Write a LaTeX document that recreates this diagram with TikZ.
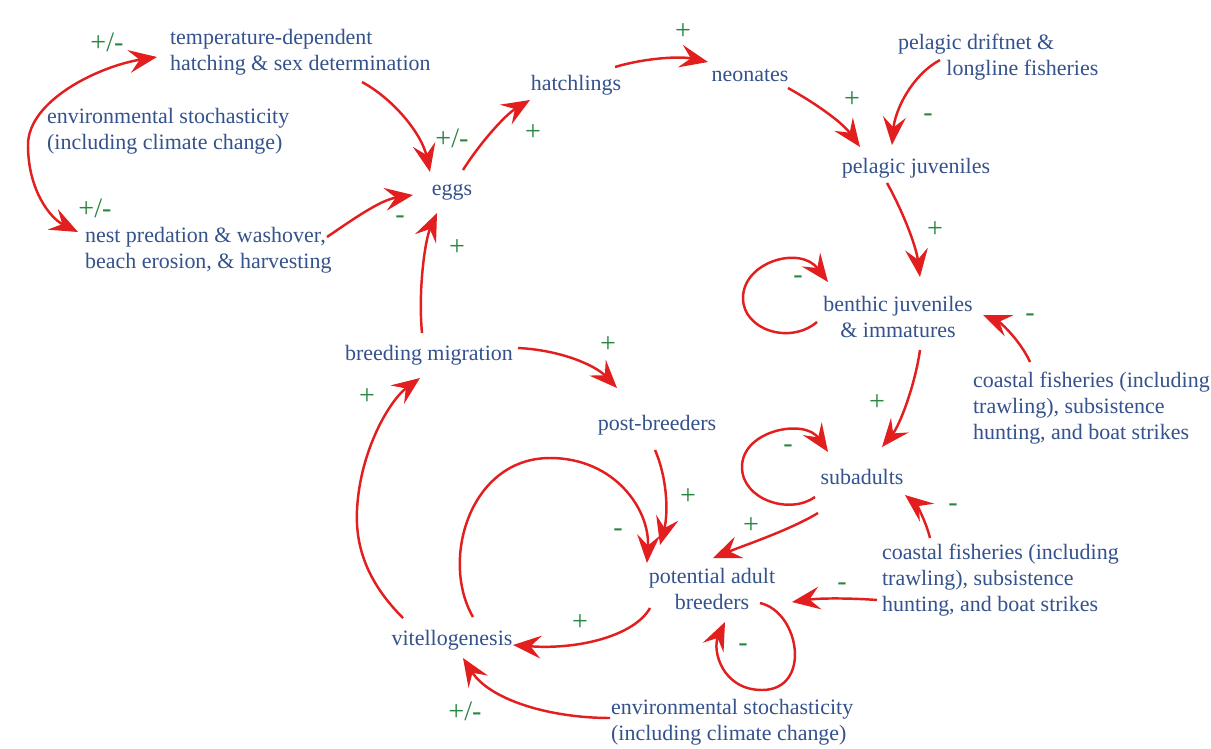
\documentclass[tikz,border=0pt]{standalone}
\usepackage{fontspec}
\setmainfont{Liberation Serif}
\usetikzlibrary{arrows.meta,calc}

\definecolor{txtazul}{RGB}{52,82,140}
\definecolor{signoverde}{RGB}{40,135,65}
\definecolor{flecharoja}{RGB}{226,30,30}

\tikzset{
  punta/.tip={Stealth[length=16pt,width=13pt,inset=6pt]},
  etiq/.style={text=txtazul, inner sep=1pt},
  signo/.style={text=signoverde, font=\fontsize{16}{18}\selectfont},
  flecha/.style={draw=flecharoja, line width=1.4pt, -punta}
}

\begin{document}
\begin{tikzpicture}[x=0.02cm, y=-0.02cm, every node/.style={font=\fontsize{12.5}{15}\selectfont}]
  % Fondo
  \fill[white] (0,0) rectangle (1211,748);
  \useasboundingbox (0,0) rectangle (1211,748);

  % Etiquetas
  \node[etiq, anchor=west, align=left] (temp) at (168,52) {temperature-dependent\\hatching \& sex determination};
  \node[etiq, anchor=west, align=left] (envA) at (45,131) {environmental stochasticity\\(including climate change)};
  \node[etiq, anchor=west, align=left] (nest) at (83,250) {nest predation \& washover,\\beach erosion, \& harvesting};
  \node[etiq] (eggs) at (452,192) {eggs};
  \node[etiq] (hatch) at (576,85) {hatchlings};
  \node[etiq] (neon) at (750,75) {neonates};
  \node[etiq, anchor=west, align=left] (drift) at (896,57) {pelagic driftnet \&\\\hspace*{2.2em}longline fisheries};
  \node[etiq] (pelag) at (916,168) {pelagic juveniles};
  \node[etiq, align=center] (benth) at (898,317) {benthic juveniles\\\& immatures};
  \node[etiq, anchor=west, align=left] (coastA) at (971,408) {coastal fisheries (including\\trawling), subsistence\\hunting, and boat strikes};
  \node[etiq] (migr) at (429,355) {breeding migration};
  \node[etiq] (post) at (657,425) {post-breeders};
  \node[etiq] (subad) at (862,477) {subadults};
  \node[etiq, anchor=west, align=left] (coastB) at (880,580) {coastal fisheries (including\\trawling), subsistence\\hunting, and boat strikes};
  \node[etiq, align=center] (adult) at (712,589) {potential adult\\breeders};
  \node[etiq] (vitel) at (452,640) {vitellogenesis};
  \node[etiq, anchor=west, align=left] (envB) at (609,722) {environmental stochasticity\\(including climate change)};

  % Signos
  \node[signo] (s01) at (107,42) {+/-};
  \node[signo] (s02) at (95,208) {+/-};
  \node[signo] (s03) at (452,138) {+/-};
  \node[signo] (s04) at (533,133) {+};
  \node[signo] (s05) at (400,220) {-};
  \node[signo] (s06) at (457,248) {+};
  \node[signo] (s07) at (683,32) {+};
  \node[signo] (s08) at (852,100) {+};
  \node[signo] (s09) at (928,118) {-};
  \node[signo] (s10) at (935,230) {+};
  \node[signo] (s11) at (798,280) {-};
  \node[signo] (s12) at (1030,318) {-};
  \node[signo] (s13) at (877,403) {+};
  \node[signo] (s14) at (788,449) {-};
  \node[signo] (s15) at (953,508) {-};
  \node[signo] (s16) at (608,345) {+};
  \node[signo] (s17) at (367,397) {+};
  \node[signo] (s18) at (688,497) {+};
  \node[signo] (s19) at (618,533) {-};
  \node[signo] (s20) at (751,526) {+};
  \node[signo] (s21) at (842,587) {-};
  \node[signo] (s22) at (743,648) {-};
  \node[signo] (s23) at (580,623) {+};
  \node[signo] (s24) at (465,711) {+/-};

  % Flechas: nidos y huevos
  \draw[flecha, punta-punta] ($(temp.west)+(-11,5)$) .. controls (100,66) and (28,100) .. (28,145)
    .. controls (28,190) and (50,218) .. ($(nest.west)+(-5,-18)$);
  \draw[flecha] ($(temp.west)+(194,30)$) .. controls (395,100) and (422,135) .. ($(eggs)+(-22,-20)$);
  \draw[flecha] ($(nest.west)+(244,-13)$) .. controls (352,220) and (380,200) .. ($(eggs)+(-39,3)$);
  \draw[flecha] ($(eggs)+(11,-22)$) .. controls (480,143) and (505,115) .. ($(hatch)+(-46,15)$);

  % Flechas: etapas pelagicas
  \draw[flecha] ($(hatch)+(39,-18)$) .. controls (645,58) and (680,56) .. ($(neon)+(-42,-13)$);
  \draw[flecha] ($(neon)+(38,13)$) .. controls (815,103) and (842,122) .. ($(pelag)+(-56,-21)$);
  \draw[flecha] ($(drift.west)+(44,3)$) .. controls (912,75) and (895,110) .. ($(pelag)+(-24,-23)$);
  \draw[flecha] ($(pelag)+(-29,15)$) .. controls (902,210) and (916,245) .. ($(benth)+(22,-40)$);

  % Flechas: etapas bentonicas
  \draw[flecha] ($(benth)+(-81,5)$) .. controls (790,345) and (743,330) .. (743,298)
    .. controls (743,262) and (800,245) .. ($(benth)+(-70,-35)$);
  \draw[flecha] ($(coastA.west)+(59,-46)$) .. controls (1020,340) and (1000,322) .. ($(benth)+(85,-2)$);
  \draw[flecha] ($(benth)+(22,33)$) .. controls (915,385) and (900,425) .. ($(subad)+(20,-30)$);
  \draw[flecha] ($(subad)+(-47,20)$) .. controls (790,515) and (742,500) .. (742,467)
    .. controls (742,430) and (805,418) .. ($(subad)+(-34,-25)$);
  \draw[flecha] ($(coastB.west)+(50,-42)$) .. controls (925,518) and (915,503) .. ($(subad)+(43,18)$);
  \draw[flecha] ($(subad)+(-44,36)$) .. controls (790,530) and (745,545) .. ($(adult)+(1,-31)$);
  \draw[flecha] ($(coastB.west)+(-3,20)$) .. controls (850,598) and (820,598) .. ($(adult)+(80,13)$);

  % Flechas: adultos
  \draw[flecha] ($(adult)+(48,14)$) .. controls (800,612) and (812,690) .. (762,690)
    .. controls (722,690) and (712,650) .. ($(adult)+(13,33)$);
  \draw[flecha] ($(adult)+(-62,19)$) .. controls (635,635) and (580,650) .. ($(vitel)+(61,5)$);
  \draw[flecha] ($(envB.west)+(1,-4)$) .. controls (550,718) and (490,700) .. ($(vitel)+(11,18)$);
  \draw[flecha] ($(vitel)+(-49,-22)$) .. controls (370,585) and (355,550) .. (357,510)
    .. controls (360,450) and (390,400) .. ($(migr)+(-9,23)$);
  \draw[flecha] ($(vitel)+(21,-23)$) .. controls (440,560) and (470,458) .. (550,458)
    .. controls (615,458) and (650,510) .. ($(adult)+(-65,-26)$);
  \draw[flecha] ($(migr)+(-7,-22)$) .. controls (418,290) and (425,240) .. ($(eggs)+(-15,21)$);
  \draw[flecha] ($(migr)+(89,-7)$) .. controls (560,350) and (595,365) .. ($(post)+(-40,-37)$);
  \draw[flecha] ($(post)+(-2,25)$) .. controls (668,480) and (668,515) .. ($(adult)+(-52,-44)$);
\end{tikzpicture}
\end{document}
